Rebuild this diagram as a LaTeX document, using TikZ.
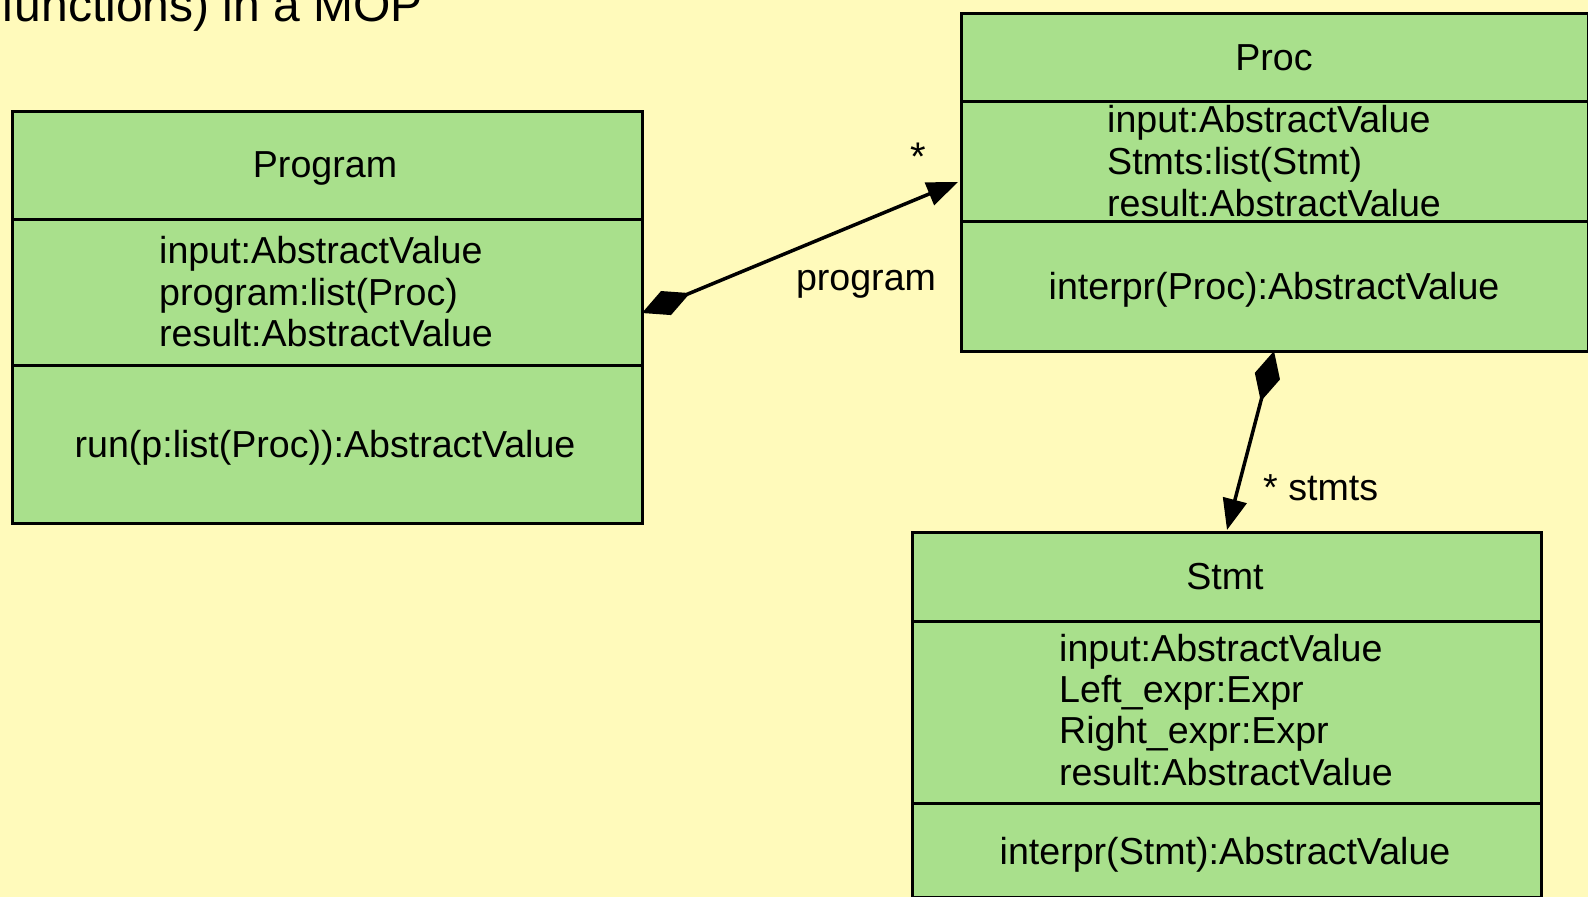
\documentclass[tikz,border=0pt]{standalone}
\usepackage{fontspec}
\setmainfont{Liberation Sans}
\usetikzlibrary{arrows.meta}
\definecolor{bg}{RGB}{255,250,187}
\definecolor{cls}{RGB}{169,224,140}
\tikzset{
  classbox/.style={draw=black, fill=cls, line width=3pt, rectangle, inner sep=0pt, anchor=north west},
  sep/.style={draw=black, line width=3pt},
  txt/.style={font=\fontsize{37.6}{42}\selectfont, inner sep=0pt, anchor=base},
  attr/.style={txt, anchor=base west},
  conn/.style={draw=black, line width=3.5pt},
  assoc/.style={conn, {Diamond[length=52pt,width=26pt]}-{Triangle[length=31pt,width=24pt]}},
}
\begin{document}
\begin{tikzpicture}[x=1pt,y=-1pt]
\fill[bg] (0,0) rectangle (1588,897);
\useasboundingbox (0,0) rectangle (1588,897);
\node[anchor=base east, inner sep=0pt, font=\fontsize{48}{52}\selectfont] (title) at (423,21) {functions) in a MOP};

% Program
\node[classbox, minimum width=630pt, minimum height=412pt] (program) at (11,110) {};
\draw[sep] (11,219) -- (641,219);
\draw[sep] (11,365) -- (641,365);
\node[txt] (programname) at (325,177) {Program};
\node[attr] (pa1) at (159,263) {input:AbstractValue};
\node[attr] (pa2) at (159,305) {program:list(Proc)};
\node[attr] (pa3) at (159,346) {result:AbstractValue};
\node[txt] (pm1) at (325,457) {run(p:list(Proc)):AbstractValue};

% Proc
\node[classbox, minimum width=627pt, minimum height=338pt] (proc) at (960,12) {};
\draw[sep] (960,101) -- (1587,101);
\draw[sep] (960,221) -- (1587,221);
\node[txt] (procname) at (1274,70) {Proc};
\node[attr] (ra1) at (1107,132) {input:AbstractValue};
\node[attr] (ra2) at (1107,174) {Stmts:list(Stmt)};
\node[attr] (ra3) at (1107,216) {result:AbstractValue};
\node[txt] (rm1) at (1274,299) {interpr(Proc):AbstractValue};

% Stmt
\node[classbox, minimum width=629pt, minimum height=365pt] (stmt) at (911,531) {};
\draw[sep] (911,621) -- (1540,621);
\draw[sep] (911,803) -- (1540,803);
\node[txt] (stmtname) at (1225,589) {Stmt};
\node[attr] (sa1) at (1059,661) {input:AbstractValue};
\node[attr] (sa2) at (1059,702) {Left\_expr:Expr};
\node[attr] (sa3) at (1059,743) {Right\_expr:Expr};
\node[attr] (sa4) at (1059,785) {result:AbstractValue};
\node[txt] (sm1) at (1225,864) {interpr(Stmt):AbstractValue};

% connectors
\coordinate (c1s) at (642,313);
\coordinate (c1e) at (958,182);
\draw[assoc] (c1s) -- (c1e);
\node[txt, font=\fontsize{40}{42}\selectfont] (star1) at (918,170) {*};
\node[txt] (lprogram) at (866,290) {program};

\coordinate (c2s) at (1274,351);
\coordinate (c2e) at (1227,530);
\draw[assoc] (c2s) -- (c2e);
\node[attr] (lstmts) at (1263,500) {* stmts};
\end{tikzpicture}
\end{document}
